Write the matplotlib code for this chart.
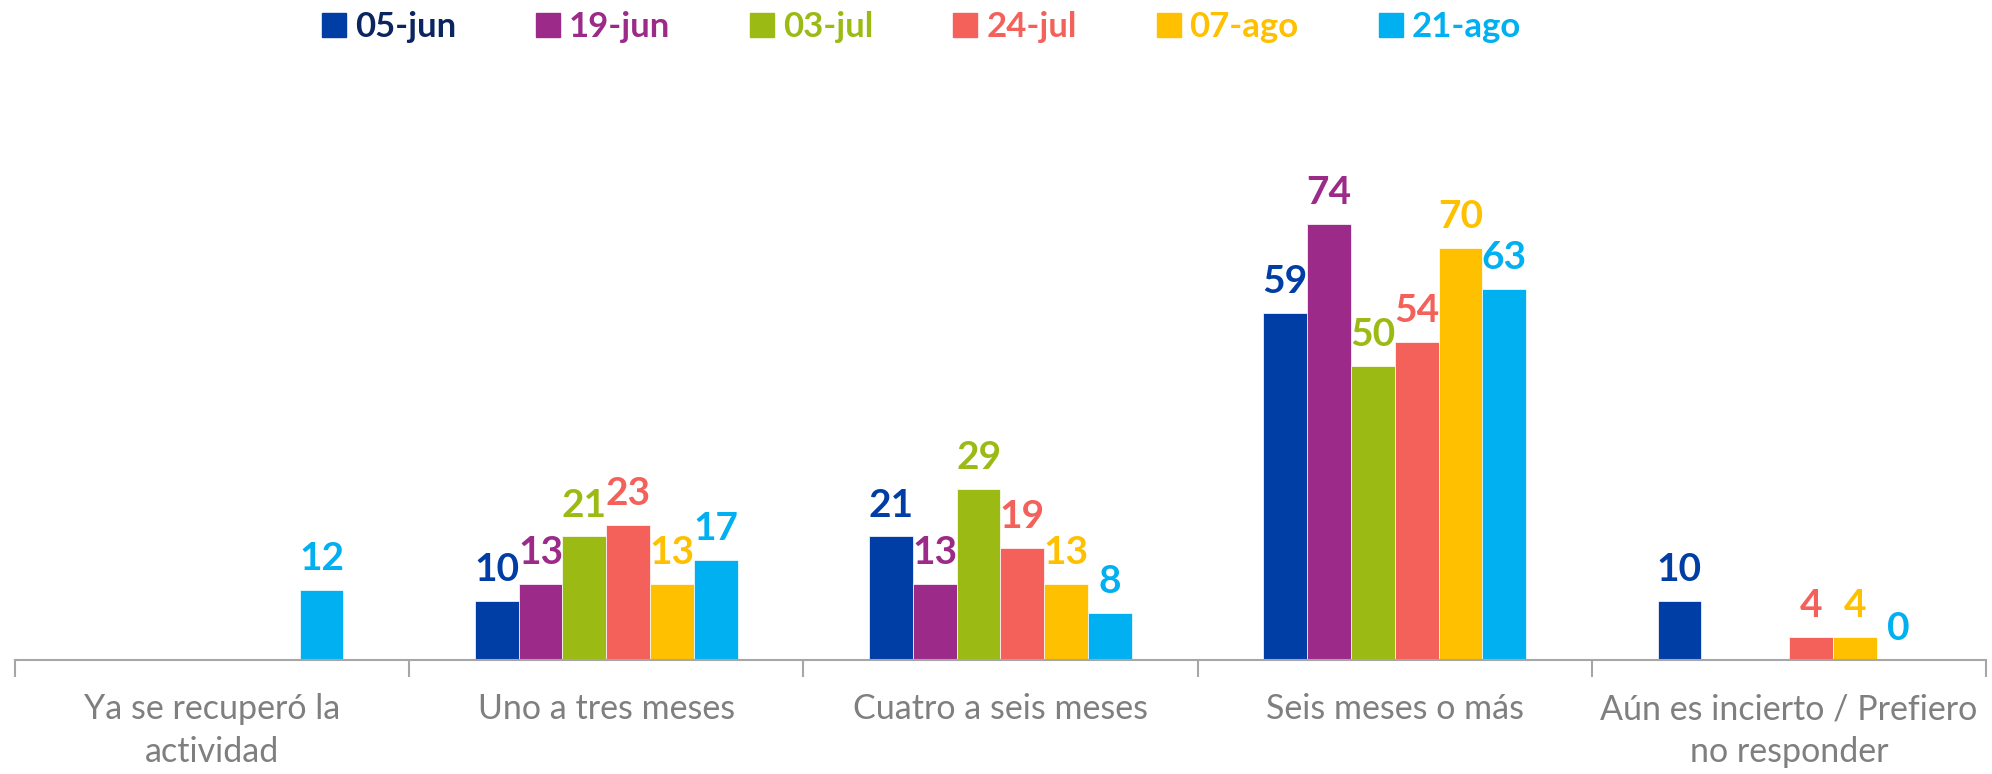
import numpy as np
import matplotlib.pyplot as plt
from matplotlib.lines import Line2D

categories = ['Ya se recuperó la\nactividad', 'Uno a tres meses', 'Cuatro a seis meses',
              'Seis meses o más', 'Aún es incierto / Prefiero\nno responder']
series = ['05-jun', '19-jun', '03-jul', '24-jul', '07-ago', '21-ago']
# None = no bar for that date
v_05jun = [None, 10, 21, 59, 10]
v_19jun = [None, 13, 13, 74, None]
v_03jul = [None, 21, 29, 50, None]
v_24jul = [None, 23, 19, 54, 4]
v_07ago = [None, 13, 13, 70, 4]
v_21ago = [12, 17, 8, 63, 0]
values = [v_05jun, v_19jun, v_03jul, v_24jul, v_07ago, v_21ago]

colors = ['#003DA5', '#9B2A88', '#9BBB14', '#F4605A', '#FFC000', '#00B0F0']
legend_text_colors = ['#0B2560', '#9B2A88', '#9BBB14', '#F4605A', '#FFC000', '#00B0F0']

plt.rcParams['font.family'] = ['Lato', 'DejaVu Sans']

fig = plt.figure(figsize=(19.92, 7.74), dpi=100)
ax = fig.add_axes([0.0075, 0.147, 0.9895, 0.609])

x = np.arange(len(categories))
w = 1 / 9
for i, (vals, c) in enumerate(zip(values, colors)):
    off = (i - 2.5) * w
    for xi, v in zip(x, vals):
        if v is None:
            continue
        ax.bar(xi + off, v, width=w, color=c, edgecolor='white', linewidth=0.5)
        ax.annotate(str(v), (xi + off, v), xytext=(0, 10), textcoords='offset points',
                    ha='center', va='bottom', color=c, fontsize=28, fontweight='bold',
                    annotation_clip=False)

ax.set_xlim(-0.5, len(categories) - 0.5)
ax.set_ylim(0, 80)
ax.set_yticks([])
for s in ['top', 'right', 'left']:
    ax.spines[s].set_visible(False)
ax.spines['bottom'].set_color('#A6A6A6')
ax.spines['bottom'].set_linewidth(1.5)

ax.set_xticks(np.arange(-0.5, len(categories)), [''] * (len(categories) + 1))
ax.tick_params(axis='x', length=12, width=1.5, color='#A6A6A6')
for xi, lab in zip(x, categories):
    ax.text(xi, -0.07, lab, transform=ax.get_xaxis_transform(), ha='center', va='top',
            fontsize=24.5, color='#7F7F7F', linespacing=1.42)

handles = [Line2D([], [], marker='s', linestyle='', markersize=17, color=c) for c in colors]
leg = fig.legend(handles, series, loc='center', bbox_to_anchor=(0.462, 0.965), ncol=6,
                 frameon=False, handletextpad=0.2, columnspacing=2.25, handlelength=0.8,
                 prop={'size': 25, 'weight': 'bold'})
for t, c in zip(leg.get_texts(), legend_text_colors):
    t.set_color(c)

fig.savefig('out.png', dpi=100)
